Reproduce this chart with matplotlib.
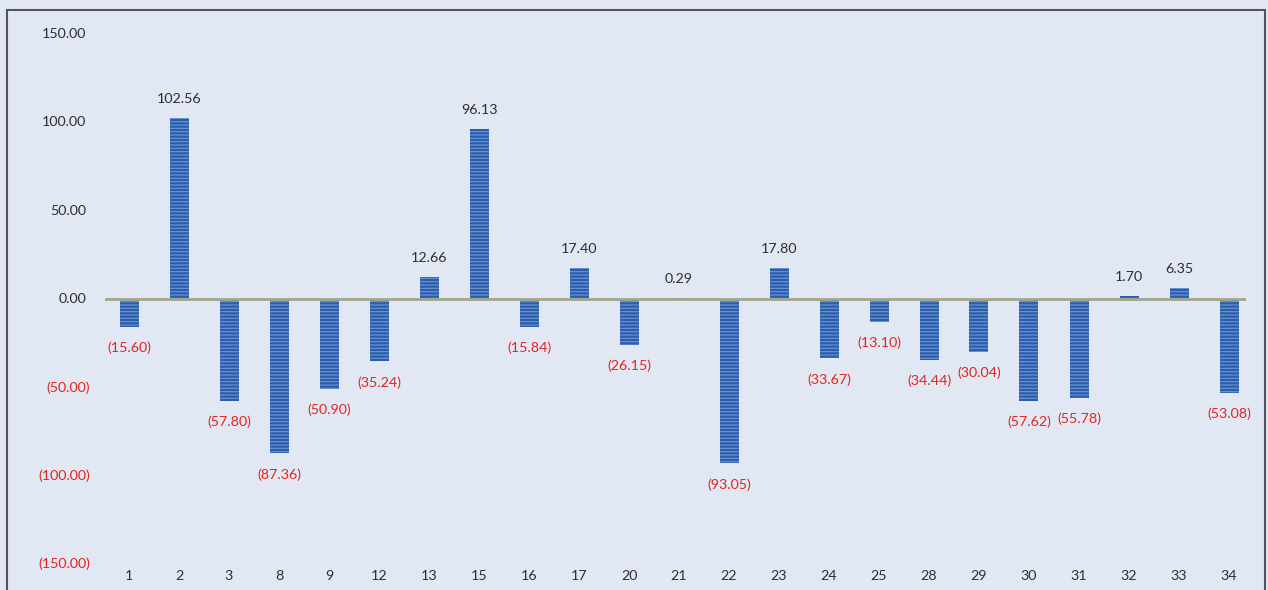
import matplotlib
matplotlib.use("Agg")
import matplotlib.pyplot as plt
from matplotlib.patches import Rectangle

# Data
categories = ["1", "2", "3", "8", "9", "12", "13", "15", "16", "17", "20", "21",
              "22", "23", "24", "25", "28", "29", "30", "31", "32", "33", "34"]
values = [-15.60, 102.56, -57.80, -87.36, -50.90, -35.24, 12.66, 96.13, -15.84,
          17.40, -26.15, 0.29, -93.05, 17.80, -33.67, -13.10, -34.44, -30.04,
          -57.62, -55.78, 1.70, 6.35, -53.08]
y_ticks = [150, 100, 50, 0, -50, -100, -150]

BG = "#e1e8f4"
BAR = "#2a5dab"
TEXT = "#2e2e2e"
RED = "#e2261f"

plt.rcParams["font.family"] = ["Lato", "DejaVu Sans"]
plt.rcParams["hatch.color"] = "#6f96d0"
plt.rcParams["hatch.linewidth"] = 0.8

W, H = 1268, 590
fig = plt.figure(figsize=(W / 100, H / 100), dpi=100, facecolor=BG)
ax = fig.add_axes([105 / W, (H - 564) / H, 1141 / W, 530 / H])
ax.set_facecolor("none")
for s in ax.spines.values():
    s.set_visible(False)

x = list(range(len(categories)))
ax.bar(x, values, width=0.38, color=BAR, hatch="-----", linewidth=0, zorder=2)
ax.axhline(0, color="#a3a68c", lw=2, zorder=3)

ax.set_xlim(-0.48, 22.34)
ax.set_ylim(-150, 150)

# category labels along the bottom
ax.set_xticks(x, labels=categories)
ax.tick_params(axis="x", length=0, pad=4.5, labelsize=10.3, labelcolor=TEXT)
ax.set_yticks([])

# value axis labels in accounting format
ytr = ax.get_yaxis_transform()
for v in y_ticks:
    if v < 0:
        ax.text(-15 / 1141, v, f"({abs(v):.2f})", transform=ytr, ha="right",
                va="center", fontsize=10.3, color=RED)
    else:
        ax.text(-19 / 1141, v, f"{v:.2f}", transform=ytr, ha="right",
                va="center", fontsize=10.3, color=TEXT)

# value labels on each bar
for xi, v in zip(x, values):
    if v < 0:
        ax.annotate(f"({abs(v):.2f})", (xi, v), xytext=(0, -21),
                    textcoords="offset pixels", ha="center", va="center",
                    fontsize=10.3, color=RED)
    else:
        ax.annotate(f"{v:.2f}", (xi, v), xytext=(0, 19),
                    textcoords="offset pixels", ha="center", va="center",
                    fontsize=10.3, color=TEXT)

# outer frame
fig.add_artist(Rectangle((7 / W, -0.05), (1265 - 7) / W, 1 - 10 / H + 0.05,
                         transform=fig.transFigure, fill=False,
                         edgecolor="#555555", lw=1.5))

fig.savefig("out.png", dpi=100, facecolor=BG)
